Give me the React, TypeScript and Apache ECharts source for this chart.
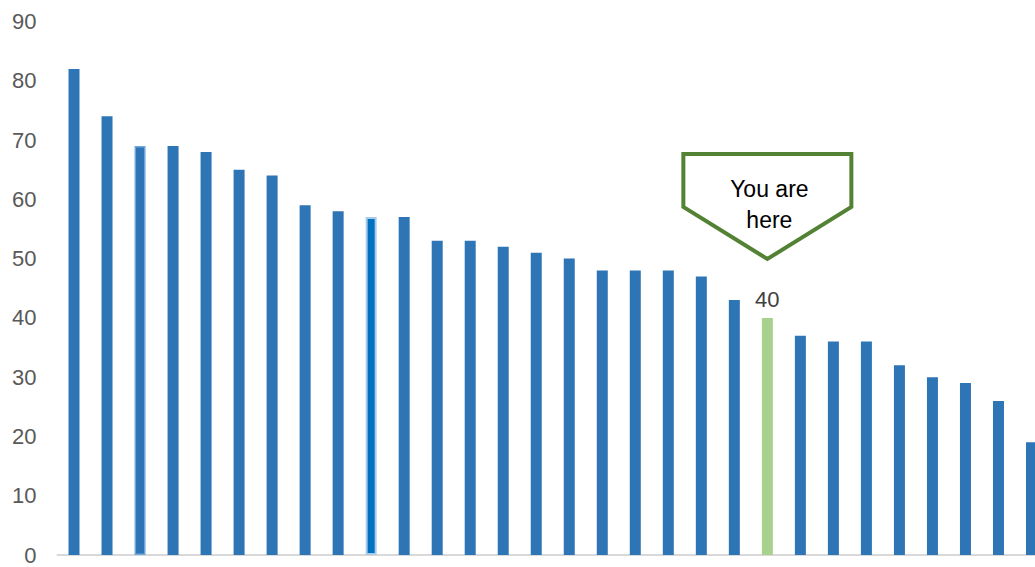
import React, { useEffect, useRef } from "react";
import * as echarts from "echarts";

// Scores, ranked from highest to lowest; the highlighted entry is "you"
const categories = [
  "A1", "A2", "A3", "A4", "A5", "A6", "A7", "A8", "A9", "A10",
  "A11", "A12", "A13", "A14", "A15", "A16", "A17", "A18", "A19", "A20",
  "A21", "You", "A23", "A24", "A25", "A26", "A27", "A28", "A29", "A30",
];
const values = [
  82, 74, 69, 69, 68, 65, 64, 59, 58, 57,
  57, 53, 53, 52, 51, 50, 48, 48, 48, 47,
  43, 40, 37, 36, 36, 32, 30, 29, 26, 19,
];
const highlightIndex = 21;
const yTicks = [0, 10, 20, 30, 40, 50, 60, 70, 80, 90];
const calloutText = ["You are", "here"];

const BLUE = "#2E75B6";
const GREEN = "#A9D18E";
const DARK_GREEN = "#548235";
const FONT = "'Liberation Sans', Arial, sans-serif";

export default function App() {
  const ref = useRef<HTMLDivElement>(null);

  useEffect(() => {
    if (!ref.current) return;
    const chart = echarts.init(ref.current, null, { renderer: "svg" });

    const data = values.map((v, i) => {
      if (i === highlightIndex) {
        return {
          value: v,
          itemStyle: { color: GREEN },
          label: {
            show: true,
            position: "top",
            distance: 7,
            fontSize: 22,
            color: "#404040",
            fontFamily: FONT,
          },
        };
      }
      if (i === 2) {
        return { value: v, itemStyle: { color: BLUE, borderColor: "#6FA6DB", borderWidth: 1.5 } };
      }
      if (i === 9) {
        return { value: v, itemStyle: { color: "#0070C0", borderColor: "#A9CBEA", borderWidth: 2 } };
      }
      return { value: v };
    });

    chart.setOption({
      animation: false,
      // the plot runs past the right edge of the frame, so the last bar is cut off
      grid: { left: 57.5, right: 0, top: 21.5, bottom: 12, containLabel: false },
      xAxis: {
        type: "category",
        data: categories,
        axisLine: { show: true, lineStyle: { color: "#D9D9D9", width: 2 } },
        axisTick: { show: false },
        axisLabel: { show: false },
      },
      yAxis: {
        type: "value",
        min: yTicks[0],
        max: yTicks[yTicks.length - 1],
        interval: 10,
        axisLine: { show: false },
        axisTick: { show: false },
        splitLine: { show: false },
        axisLabel: { fontSize: 22, color: "#595959", fontFamily: FONT, margin: 21 },
      },
      series: [
        {
          type: "bar",
          data,
          barWidth: 11,
          itemStyle: { color: BLUE },
        },
      ],
    });

    // Callout pointing down at the highlighted bar
    const [cx] = chart.convertToPixel({ xAxisIndex: 0, yAxisIndex: 0 }, [highlightIndex, 0]) as number[];
    const halfW = 84;
    const topY = 154;
    const shoulderY = 207;
    const tipY = 259;
    const textStyle = {
      fontSize: 23,
      fontFamily: FONT,
      fill: "#000000",
      align: "center",
      verticalAlign: "middle",
    };
    chart.setOption({
      graphic: [
        {
          type: "polygon",
          shape: {
            points: [
              [cx - halfW, topY],
              [cx + halfW, topY],
              [cx + halfW, shoulderY],
              [cx, tipY],
              [cx - halfW, shoulderY],
            ],
          },
          style: { fill: "#FFFFFF", stroke: DARK_GREEN, lineWidth: 4, lineJoin: "miter" },
          z: 10,
        },
        {
          type: "text",
          x: cx + 2,
          y: 189,
          style: { ...textStyle, text: calloutText[0] },
          z: 11,
        },
        {
          type: "text",
          x: cx + 2,
          y: 220,
          style: { ...textStyle, text: calloutText[1] },
          z: 11,
        },
      ],
    });

    return () => chart.dispose();
  }, []);

  return (
    <div
      style={{
        position: "fixed",
        left: 0,
        top: 0,
        width: 1035,
        height: 567,
        overflow: "hidden",
        background: "#FFFFFF",
      }}
    >
      <div ref={ref} style={{ width: 1047.5, height: 567 }} />
    </div>
  );
}
